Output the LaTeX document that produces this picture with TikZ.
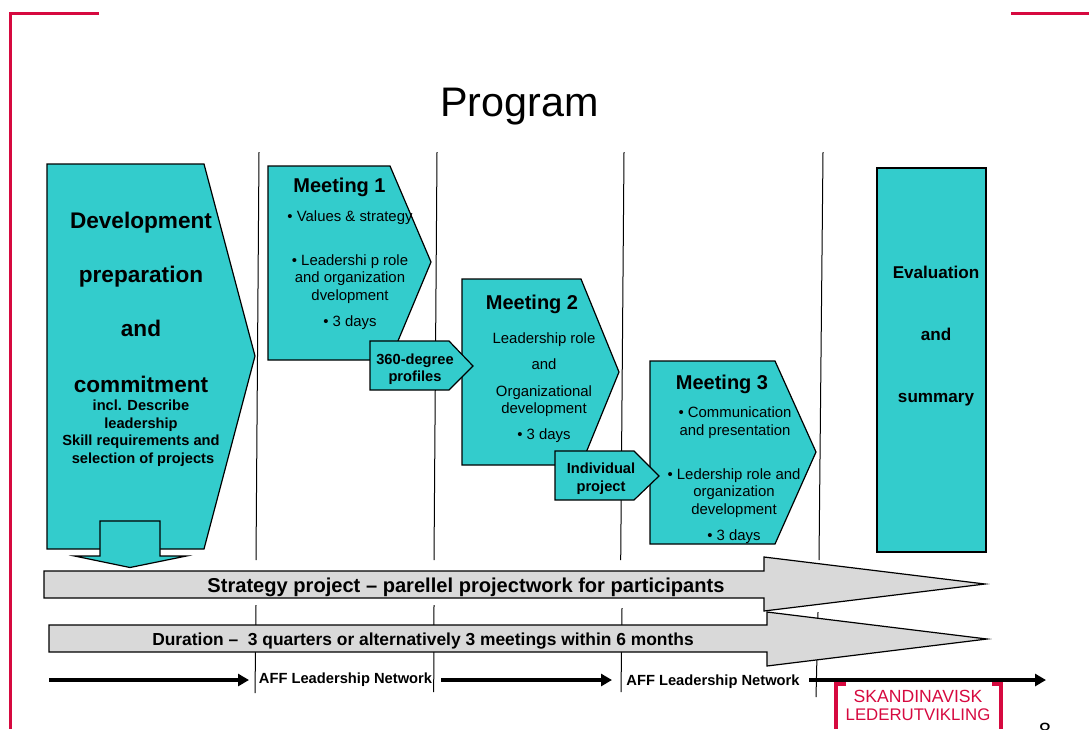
\documentclass[tikz,border=0pt]{standalone}
\usepackage{fontspec}
\setmainfont{Liberation Sans}
\definecolor{teal1}{HTML}{33CCCC}
\definecolor{grey1}{HTML}{D9D9D9}
\definecolor{red1}{HTML}{D6093F}
\usetikzlibrary{arrows.meta}
\tikzset{
 tealshape/.style={draw=black,fill=teal1,line width=1.2pt,line join=miter},
 greyshape/.style={draw=black,fill=grey1,line width=1.2pt},
 vline/.style={draw=black,line width=1pt},
 redline/.style={draw=red1,line width=3pt},
 net/.style={draw=black,line width=3.2pt,-{Triangle[length=11pt,width=12pt]}},
 big/.style={font=\fontsize{22.6}{25}\bfseries\selectfont,align=center},
 head/.style={font=\fontsize{20}{23}\bfseries\selectfont,align=center},
 body/.style={font=\fontsize{14.9}{17.6}\selectfont,align=center},
 smallb/.style={font=\fontsize{14.65}{17.5}\bfseries\selectfont,align=center},
 netlabel/.style={font=\fontsize{14.7}{17}\bfseries\selectfont},
 barlabel/.style={font=\fontsize{20.1}{23}\bfseries\selectfont},
 evlabel/.style={font=\fontsize{17.1}{20}\bfseries\selectfont},
 durlabel/.style={font=\fontsize{17.4}{20}\bfseries\selectfont},
 logotext/.style={text=red1,inner sep=0pt},
}
\begin{document}
\begin{tikzpicture}[x=1pt,y=-1pt]
\useasboundingbox (0,0) rectangle (1089,729);
% frame
\draw[redline] (99,13) -- (10,13) -- (10,729);
\draw[redline] (1011,13) -- (1089,13);
\node (title) at (519.5,107) {\fontsize{41.3}{45}\selectfont Program};
% vertical lines
\draw[vline] (259,152) -- (256,560);
\draw[vline] (437,152) -- (434,560);
\draw[vline] (624,152) -- (620.7,560);
\draw[vline] (823,152) -- (819,560);
\draw[vline] (256,605) -- (255,693);
\draw[vline] (434,605) -- (433.7,692);
\draw[vline] (622,608) -- (621,692);
\draw[vline] (818,612) -- (816,697);
% prep
\draw[tealshape] (47,164) -- (204,164) -- (255,356) -- (204,549) -- (47,549) -- cycle;
\draw[tealshape] (100,549) -- (100,521) -- (160,521) -- (160,556) -- (186.5,556) -- (130,567.5) -- (74.5,556) -- (100,556) -- cycle;
\node[big] (p1) at (141,223) {Development};
\node[big] (p2) at (141,277) {preparation};
\node[big] (p3) at (141,328) {and};
\node[big] (p4) at (141,384) {commitment};
\node[smallb] (p5) at (141,433) {incl. Describe\\leadership\\Skill requirements and\\\hspace{4pt}selection of projects};
% meeting 1
\draw[tealshape] (268,166) -- (390,166) -- (431,262) -- (390,360) -- (268,360) -- cycle;
\node[head] (m1) at (339.5,187) {Meeting 1};
\node[body] (m1a) at (350,218) {• Values \& strategy};
\node[body] (m1b) at (350,279) {• Leadershi p role\\and organization\\dvelopment};
\node[body] (m1c) at (350,323) {• 3 days};
% meeting 2
\draw[tealshape] (462,279) -- (581,279) -- (619,372) -- (581,465) -- (462,465) -- cycle;
\node[head] (m2) at (532,304) {Meeting 2};
\node[body] (m2a) at (544,340) {Leadership role};
\node[body] (m2b) at (544,364) {and};
\node[body] (m2c) at (544,401) {Organizational\\development};
\node[body] (m2d) at (544,436) {• 3 days};
% meeting 3
\draw[tealshape] (650,361) -- (775,361) -- (816,452) -- (775,544) -- (650,544) -- cycle;
\node[head] (m3) at (722,384) {Meeting 3};
\node[body] (m3a) at (735,422.5) {• Communication\\and presentation};
\node[body] (m3b) at (734,493) {• Ledership role and\\organization\\development};
\node[body] (m3c) at (734,537) {• 3 days};
% small arrows
\draw[tealshape] (370,341) -- (449,341) -- (473,366) -- (449,390) -- (370,390) -- cycle;
\node[smallb] (s1) at (415,369) {360-degree\\profiles};
\draw[tealshape] (555,451) -- (634,451) -- (659,476) -- (634,500) -- (555,500) -- cycle;
\node[smallb] (s2) at (601,478.5) {Individual\\project};
% evaluation
\draw[tealshape] (877,168) rectangle (986,552);
\node[evlabel] (e1) at (936,272) {Evaluation};
\node[evlabel] (e2) at (936,334) {and};
\node[evlabel] (e3) at (936,400) {summary};
% grey bars
\draw[greyshape] (44,571) -- (764,571) -- (764,557) -- (985,584) -- (764,611) -- (764,598) -- (44,598) -- cycle;
\node[barlabel] (b1) at (466,587.5) {Strategy project – parellel projectwork for participants};
\draw[greyshape] (49,625) -- (767,625) -- (767,612) -- (987,639) -- (767,666) -- (767,652) -- (49,652) -- cycle;
\node[durlabel] (b2) at (423,641) {Duration –\ \ 3 quarters or alternatively 3 meetings within 6 months};
% network
\coordinate (n1s) at (49,680); \coordinate (n1e) at (249,680);
\coordinate (n2s) at (441,680); \coordinate (n2e) at (612,680);
\coordinate (n3s) at (809,680); \coordinate (n3e) at (1046,680);
\draw[net] (n1s) -- (n1e);
\draw[net] (n2s) -- (n2e);
\node[netlabel] (l1) at (345.5,680) {AFF Leadership Network};
\node[netlabel] (l2) at (713,682) {AFF Leadership Network};
% logo
\draw[draw=red1,line width=4pt] (846,683.5) -- (836,683.5) -- (836,729);
\draw[draw=red1,line width=4pt] (992,683.5) -- (1001,683.5) -- (1001,729);
\draw[net] (n3s) -- (n3e);
\node[logotext,font=\fontsize{17.6}{18}\selectfont] (logo1) at (918,696.5) {SKANDINAVISK};
\node[logotext,font=\fontsize{16.8}{18}\selectfont] (logo2) at (918,715) {LEDERUTVIKLING};
\node[font=\fontsize{22}{22}\selectfont,anchor=north] (pg) at (1045,720) {8};
\end{tikzpicture}
\end{document}
